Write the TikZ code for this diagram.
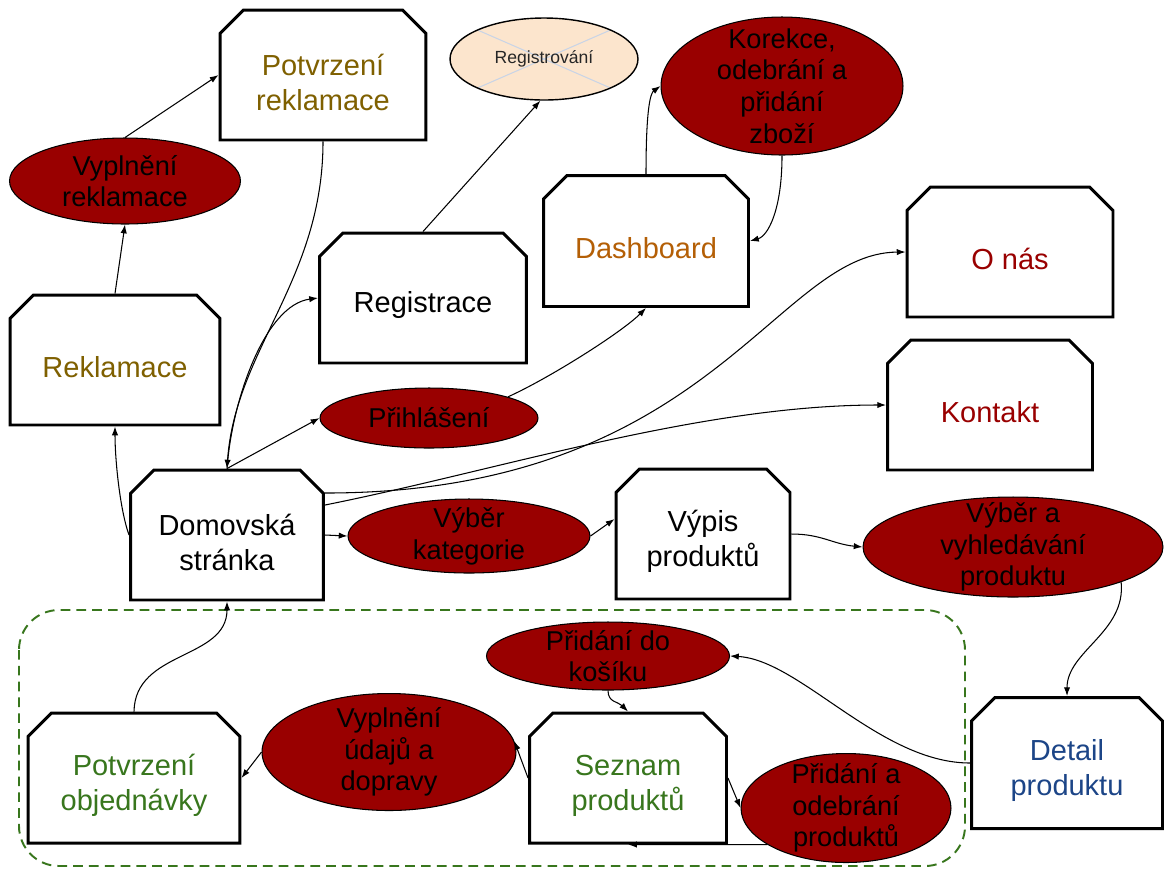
\documentclass[tikz,border=0pt]{standalone}
\usepackage{fontspec}
\setmainfont{Liberation Sans}
\usetikzlibrary{shapes.geometric,shapes.misc,arrows.meta}
\definecolor{ered}{HTML}{990000}
\definecolor{tbrown}{HTML}{7F6000}
\definecolor{torange}{HTML}{B45F06}
\definecolor{tred}{HTML}{990000}
\definecolor{tblue}{HTML}{1C4587}
\definecolor{tgreen}{HTML}{38761D}
\definecolor{regfill}{HTML}{FCE5CD}
\definecolor{xline}{HTML}{C9D4E6}
\tikzset{
  page/.style={chamfered rectangle, chamfered rectangle corners={north west,north east},
    chamfered rectangle xsep=0.25cm, chamfered rectangle ysep=0.22cm,
    draw, line width=1.7pt, fill=white, minimum width=4.12cm, minimum height=2.6cm,
    inner sep=0pt, text height=0.7cm, align=center, font=\fontsize{16.5}{20}\selectfont},
  twoline/.style={text height=1.42cm},
  act/.style={ellipse, draw, line width=0.6pt, fill=ered, inner sep=0pt},
  acttext/.style={align=center, font=\fontsize{15.5}{18}\selectfont},
  link/.style={line width=0.6pt, -{Latex[length=5pt,width=3.6pt]}}
}
\begin{document}
\begin{tikzpicture}[x=0.02cm, y=-0.02cm]
\useasboundingbox (0,0) rectangle (1165,870);
% objednavka
\draw[tgreen, line width=1.1pt, dash pattern=on 5.5pt off 3.5pt, rounded corners=0.8cm] (19,610) rectangle (965,866);

% stranky
\node[page, twoline, text=tbrown] (potr) at (323,75) {Potvrzení\\reklamace};
\node[page, text=tbrown, minimum width=4.2cm] (rekl) at (115,360) {Reklamace};
\node[page, twoline, minimum width=3.86cm] (dom) at (227,535) {Domovská\\stránka};
\node[page, minimum width=4.14cm] (regs) at (423,298) {Registrace};
\node[page, text=torange, minimum width=4.1cm, minimum height=2.62cm] (dash) at (646,241) {Dashboard};
\node[page, text=tred] (onas) at (1010,252) {O nás};
\node[page, text=tred, minimum width=4.1cm] (kont) at (990,405) {Kontakt};
\node[page, twoline, minimum width=3.48cm] (vyp) at (703,534) {Výpis\\produktů};
\node[page, twoline, text=tblue, minimum width=3.82cm, minimum height=2.62cm] (det) at (1067,763) {Detail\\produktu};
\node[page, twoline, text=tgreen, minimum width=4.24cm] (potobj) at (134,778) {Potvrzení\\objednávky};
\node[page, twoline, text=tgreen, minimum width=3.94cm] (sez) at (628,778) {Seznam\\produktů};

% akce
\node[act, minimum width=4.62cm, minimum height=1.72cm, label={[acttext]center:{Vyplnění\\reklamace}}] (vyrekl) at (125,181) {};
\node[act, minimum width=4.84cm, minimum height=2.76cm, label={[acttext]center:{Korekce,\\odebrání a\\přidání\\zboží}}] (kor) at (782,86) {};
\node[act, minimum width=4.36cm, minimum height=1.2cm, label={[acttext]center:{Přihlášení}}] (prih) at (429,418) {};
\node[act, minimum width=4.84cm, minimum height=1.48cm, label={[acttext]center:{Výběr\\kategorie}}] (vkat) at (469,536) {};
\node[act, minimum width=6cm, minimum height=2cm, label={[acttext]center:{Výběr a\\vyhledávání\\produktu}}] (vyhl) at (1013,547) {};
\node[act, minimum width=4.86cm, minimum height=1.36cm, label={[acttext]center:{Přidání do\\košíku}}] (pridk) at (608,656) {};
\node[act, minimum width=5.08cm, minimum height=2.34cm, label={[acttext]center:{Vyplnění\\údajů a\\dopravy}}] (vyud) at (389,752) {};
\node[act, minimum width=4.2cm, minimum height=2.18cm, label={[acttext]center:{Přidání a\\odebrání\\produktů}}] (prodeb) at (846,808) {};
\node[ellipse, draw, line width=0.8pt, fill=regfill, minimum width=3.76cm, minimum height=1.64cm, inner sep=0pt,
  font=\fontsize{10}{12}\selectfont, text=black!85,
  path picture={\draw[xline, line width=0.6pt] (path picture bounding box.north west) -- (path picture bounding box.south east)
    (path picture bounding box.south west) -- (path picture bounding box.north east);}] (regi) at (544,59) {Registrování};

% prechody
\draw[link] (rekl.north) -- (vyrekl.south);
\draw[link] (vyrekl.north) -- (potr.west);
\draw[link] (potr.south) .. controls (323,280) and (235,350) .. (dom.north);
\draw[link] (dom.north) .. controls (232,400) and (265,305) .. (regs.west);
\draw[link] (dom.north) -- (prih.west);
\draw[link] (dom.west) .. controls (120,510) and (115,460) .. (rekl.south);
\draw[link] (regs.north) -- (regi.265);
\draw[link] (prih.15) .. controls +(40,-18) and +(-25,25) .. (dash.south);
\draw[link] (dash.north) .. controls (646,130) and (648,95) .. (kor.west);
\draw[link] (kor.south) .. controls (782,210) and (768,236) .. (dash.east);
\draw[link] ([yshift=0.84cm]dom.east) .. controls (710,493) and (775,253) .. (onas.west);
\draw[link] ([yshift=0.6cm]dom.east) .. controls (500,470) and (700,405) .. (kont.west);
\draw[link] (dom.east) -- (vkat.west);
\draw[link] (vkat.east) -- ([yshift=0.3cm]vyp.west);
\draw[link] (vyp.east) .. controls +(30,0) and +(-30,-3) .. (vyhl.west);
\draw[link] (vyhl.-18) .. controls +(5,50) and +(0,-45) .. (det.north);
\draw[link] (det.west) .. controls (880,763) and (800,660) .. (pridk.east);
\draw[link] (pridk.south) .. controls +(0,12) and +(-10,-10) .. (sez.north);
\draw[link] (sez.east) -- (prodeb.west);
\draw[link] (prodeb.205) -- (sez.south);
\draw[link] (sez.west) -- (vyud.5);
\draw[link] (vyud.west) -- (potobj.east);
\draw[link] (potobj.north) .. controls (135,650) and (227,660) .. (dom.south);
\end{tikzpicture}
\end{document}
